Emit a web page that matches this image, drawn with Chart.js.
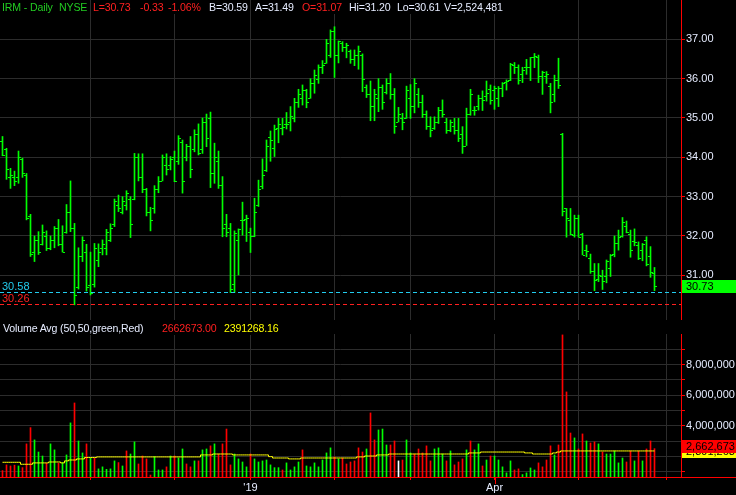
<!DOCTYPE html>
<html lang="en">
<head>
<meta charset="UTF-8">
<title>IRM - Daily</title>
<script src="https://cdn.jsdelivr.net/npm/chart.js"></script>
<style>
  body { margin: 0; background: #000; width: 736px; height: 495px; overflow: hidden; position: relative;
         font-family: "Liberation Sans", Arial, sans-serif; font-size: 11px; }
  canvas { position: absolute; left: 0; }
  #price { top: 0; }
  #vol { top: 320px; }
  .t { position: absolute; line-height: 14px; white-space: nowrap; background: #000; font-size: 10.6px; letter-spacing: -0.15px; }
  .g { color: #22cc22; } .r { color: #ff2020; } .w { color: #e6ecff; } .y { color: #ffff00; }
</style>
</head>
<body>
<canvas id="price" width="736" height="320"></canvas>
<canvas id="vol" width="736" height="175"></canvas>

<div class="t g" style="left:2px;top:0">IRM - Daily</div>
<div class="t g" style="left:59px;top:0">NYSE</div>
<div class="t r" style="left:93px;top:0">L=30.73</div>
<div class="t r" style="left:140px;top:0">-0.33</div>
<div class="t r" style="left:168px;top:0">-1.06%</div>
<div class="t w" style="left:209px;top:0">B=30.59</div>
<div class="t w" style="left:255px;top:0">A=31.49</div>
<div class="t r" style="left:302px;top:0">O=31.07</div>
<div class="t w" style="left:349px;top:0">Hi=31.20</div>
<div class="t w" style="left:397px;top:0">Lo=30.61</div>
<div class="t w" style="left:444px;top:0">V=2,524,481</div>

<div class="t w" style="left:3px;top:321px">Volume Avg (50,50,green,Red)</div>
<div class="t r" style="left:162px;top:321px">2662673.00</div>
<div class="t y" style="left:224px;top:321px">2391268.16</div>

<script>
// daily OHLC, one entry per trading day
const opens = [
  34.42,34.2,33.5,33.5,33.5,33.95,33.55,32.5,31.6,31.9,
  31.8,32.0,31.7,31.9,32.2,31.8,32.1,32.6,32.2,30.7,
  31.5,31.6,30.75,30.77,31.4,31.7,31.7,31.9,32.3,32.8,
  32.6,32.8,32.95,32.95,34.0,33.5,33.2,32.6,32.7,33.2,
  33.4,33.8,33.8,34.0,33.9,34.4,34.0,34.3,34.2,34.6,
  34.2,34.9,35.0,33.6,33.9,33.3,32.3,32.2,30.77,31.9,
  32.4,32.42,32.1,32.0,32.8,33.27,33.69,34.51,34.23,34.74,
  34.74,34.84,34.89,35.0,35.4,35.5,35.7,35.5,35.9,36.0,
  36.3,36.4,36.6,37.2,36.6,36.9,36.8,36.7,36.5,36.6,
  36.6,35.8,35.6,35.3,35.5,35.8,35.65,35.9,35.6,34.9,
  35.0,35.0,35.5,35.3,35.6,35.4,35.1,34.8,34.75,34.9,
  35.2,34.9,34.7,34.8,34.7,34.6,34.3,35.1,35.2,35.3,
  35.52,35.56,35.73,35.71,35.5,35.77,35.92,35.97,36.35,36.3,
  36.11,36.29,36.29,36.54,36.54,36.07,36.07,35.81,35.61,35.97,
  34.6,32.7,32.41,32.03,32.45,32.04,31.64,31.43,31.1,30.9,
  30.97,30.97,31.19,31.53,31.81,32.0,32.26,32.05,31.87,31.77,
  31.64,31.91,31.49,31.07
];
const highs = [
  34.53,34.23,33.72,33.65,34.16,33.98,33.59,32.55,32.0,32.11,
  32.28,32.13,32.0,32.24,32.42,32.26,32.8,33.4,32.32,31.7,
  31.98,31.79,31.59,31.81,31.8,31.9,32.17,32.31,32.94,33.04,
  33.0,33.15,33.0,34.1,34.09,34.09,33.21,32.73,33.28,33.51,
  34.06,34.09,34.02,34.16,34.55,34.44,34.33,34.53,34.7,34.85,
  35.0,35.1,35.15,34.36,34.16,33.51,32.55,32.32,32.13,32.18,
  32.86,32.53,32.2,32.96,33.42,33.96,34.44,34.67,34.82,34.99,
  34.99,35.14,35.29,35.5,35.73,35.84,35.73,36.0,36.22,36.35,
  36.46,37.0,37.24,37.32,36.96,36.94,36.9,36.73,36.73,36.83,
  36.63,35.84,35.94,35.73,36.0,35.84,36.0,36.13,35.75,35.27,
  35.12,35.81,35.85,36.0,35.75,35.58,35.18,35.03,35.03,35.27,
  35.46,34.99,34.95,34.99,34.99,34.78,35.25,35.73,35.29,35.58,
  35.69,35.94,35.84,35.81,35.8,35.9,35.97,36.39,36.41,36.35,
  36.29,36.49,36.54,36.64,36.6,36.19,36.18,35.88,36.09,36.52,
  34.61,32.7,32.7,32.53,32.53,32.07,31.77,31.54,31.3,31.3,
  31.13,31.39,31.53,32.0,32.15,32.47,32.38,32.15,32.18,31.85,
  31.81,31.98,31.73,31.2
];
const lows = [
  34.04,33.44,33.21,33.28,33.34,33.49,32.41,31.48,31.35,31.53,
  31.77,31.63,31.65,31.7,31.75,31.59,32.07,32.11,30.25,30.65,
  31.35,30.6,30.5,30.7,31.22,31.52,31.52,31.86,32.24,32.62,
  32.56,32.66,31.96,32.92,33.4,33.1,32.51,32.13,32.58,33.1,
  33.4,33.55,33.68,33.38,33.82,33.09,33.91,33.48,34.14,34.06,
  34.1,34.27,33.23,33.34,33.21,31.98,31.98,30.56,30.56,31.01,
  32.02,31.86,31.58,31.98,32.75,33.2,33.64,33.9,34.02,34.37,
  34.57,34.72,34.67,34.9,35.27,35.33,35.26,35.5,35.63,35.88,
  36.13,36.39,36.54,36.03,36.4,36.69,36.53,36.39,36.33,36.24,
  35.67,35.52,34.93,34.93,35.16,35.22,35.61,35.48,34.61,34.9,
  34.7,34.99,34.99,35.13,35.27,35.01,34.71,34.52,34.71,34.86,
  35.02,34.61,34.65,34.59,34.4,34.1,34.3,35.07,35.07,35.2,
  35.19,35.43,35.35,35.22,35.29,35.54,35.71,35.95,36.13,35.86,
  35.9,36.11,35.95,36.28,35.9,35.6,35.88,35.13,35.41,35.75,
  32.51,31.97,32.03,31.97,31.97,31.52,31.47,31.05,30.61,30.84,
  30.64,30.81,30.97,31.47,31.64,31.97,32.08,31.46,31.75,31.4,
  31.37,31.24,30.95,30.61
];
const closes = [
  34.05,33.7,33.55,33.4,34.0,33.6,32.45,31.55,31.9,31.6,
  32.1,31.7,31.9,32.2,31.8,31.6,32.6,32.2,30.5,31.5,
  31.9,30.7,30.55,31.7,31.6,31.8,32.1,32.2,32.9,32.7,
  32.9,33.1,32.3,34.0,33.5,33.2,32.6,32.4,33.2,33.4,
  34.0,33.7,33.95,33.4,34.5,33.4,34.3,33.7,34.6,34.1,
  34.9,34.5,33.6,34.0,33.3,32.2,32.1,30.65,32.07,32.17,
  32.4,32.45,31.99,32.6,33.19,33.54,34.29,34.44,34.72,34.85,
  34.76,34.85,35.05,35.4,35.6,35.7,35.4,35.9,36.1,36.3,
  36.35,36.9,37.2,36.6,36.95,36.8,36.85,36.5,36.6,36.7,
  36.0,35.6,35.3,35.6,35.8,35.4,35.9,35.6,34.8,35.1,
  34.9,35.7,35.3,35.9,35.4,35.1,34.8,34.7,34.9,35.2,
  35.1,34.7,34.9,34.7,34.5,34.3,35.1,35.6,35.2,35.5,
  35.46,35.63,35.46,35.77,35.77,35.88,35.95,36.37,36.3,35.97,
  36.22,36.3,36.54,36.58,36.07,36.18,36.11,35.4,35.97,35.84,
  32.64,32.45,32.04,32.47,31.98,31.52,31.63,31.12,30.88,31.01,
  30.86,31.36,31.52,31.81,31.98,32.36,32.09,31.64,31.84,31.43,
  31.79,31.3,31.08,30.73
];

// volume in millions of shares, bar colour codes (g up / r down / w unchanged)
const volumeMillions = [
  1.09,1.46,1.39,1.44,1.39,1.28,2.83,3.89,3.09,2.30,
  2.04,1.57,2.83,2.44,1.57,1.61,2.11,4.20,5.50,3.02,
  2.24,2.83,1.89,1.89,1.20,1.33,1.17,1.20,1.72,1.61,
  1.39,2.37,2.17,2.96,1.52,2.04,1.85,0.80,2.00,1.13,
  1.13,1.33,2.04,2.04,1.91,2.50,1.52,1.33,1.72,1.72,
  2.44,2.50,2.70,2.83,2.17,2.83,3.80,1.46,2.17,1.85,
  1.65,1.33,2.17,1.85,1.65,1.72,1.78,1.46,1.28,1.28,
  1.13,1.59,1.13,1.33,1.65,2.44,1.39,1.33,1.59,1.33,
  1.78,2.24,2.57,1.98,1.85,1.91,1.52,1.65,1.72,2.57,
  2.30,2.50,4.85,3.09,3.74,3.80,2.76,2.76,3.02,1.72,
  1.78,3.09,2.24,2.17,2.50,2.24,2.70,1.72,2.50,2.57,
  2.17,1.72,2.37,1.46,1.65,1.85,2.44,3.02,2.44,2.83,
  1.39,1.78,2.04,2.04,1.78,1.33,0.94,1.72,1.13,1.20,
  0.83,0.94,1.26,1.13,1.59,1.33,1.78,2.70,2.11,2.76,
  9.94,6.22,3.54,3.22,2.50,3.48,3.02,2.89,2.96,2.83,
  2.30,2.17,2.17,2.37,1.59,1.91,1.65,2.37,1.72,2.37,
  1.72,2.50,3.02,2.52
];
const volumeColorCodes = [
  'rrrrgrrrgg','grggrgggrg','grgrgggggr','grggrrrrgg','grgrggrrgr',
  'ggrgrrrrgg','ggrggggggg','rggggrgggg','gggrgrrrrr','rgrrgggrrw',
  'rggrrrrrgg','grgrrrgrgg','rgrgggggrr','ggggrrrrgr','rrrgrrgrrg',
  'rgggggrrgr','grrr'
];
const volumeAvgMillions = [
  1.63,1.63,1.63,1.63,1.63,1.50,1.50,1.50,1.59,1.59,
  1.59,1.59,1.65,1.65,1.65,1.59,1.72,1.78,1.78,1.85,
  1.85,1.94,1.94,1.94,1.98,1.98,1.98,1.98,1.98,1.98,
  1.98,1.98,1.98,1.98,1.98,1.98,1.98,1.98,1.98,1.98,
  1.98,1.98,1.98,1.98,1.98,1.98,1.98,1.98,1.98,1.98,
  2.11,2.11,2.11,2.17,2.17,2.17,2.17,2.17,2.11,2.11,
  2.11,2.11,2.11,2.11,2.11,2.11,2.11,2.00,1.91,1.91,
  1.91,1.91,1.85,1.85,1.85,1.91,1.91,1.91,1.91,1.91,
  1.91,1.91,1.91,1.91,1.91,1.91,1.91,1.91,1.91,1.98,
  1.98,2.04,2.04,2.04,2.11,2.11,2.11,2.17,2.17,2.17,
  2.17,2.17,2.17,2.17,2.17,2.17,2.17,2.17,2.17,2.17,
  2.17,2.17,2.17,2.17,2.17,2.17,2.17,2.24,2.24,2.24,
  2.30,2.30,2.30,2.30,2.30,2.30,2.30,2.30,2.30,2.30,
  2.30,2.24,2.24,2.17,2.17,2.17,2.17,2.17,2.24,2.30,
  2.37,2.37,2.37,2.37,2.37,2.37,2.37,2.37,2.37,2.37,
  2.37,2.37,2.37,2.37,2.37,2.37,2.37,2.37,2.37,2.37,
  2.37,2.37,2.37,2.37
];

// month starts (bar index) and their labels
const monthTicks = [22, 43, 62, 83, 102, 123, 144, 166];
const monthLabels = ['', '', "'19", '', '', 'Apr', '', ''];
const priceTicks = [31, 32, 33, 34, 35, 36, 37];
const volumeTicks = [1, 2, 3, 4, 5, 6, 7, 8, 9];
const volumeLabelled = [4, 6, 8];
const lastPrice = 30.73;
const levels = [30.58, 30.26];
const levelColors = ['#22ccee', '#ff2020'];
const volAvgRed = 2662673;
const volAvgYellow = 2391268;

const green = '#00ff00';
const gridCol = '#2c2c2c';
const axisRed = '#ff0000';
const textCol = '#e6ecff';
const font = { family: '"Liberation Sans", Arial, sans-serif', size: 11 };
const xMin = -0.625, xMax = 169.625;

Chart.defaults.animation = false;
Chart.defaults.font = font;

// axes reserve no extra room for their end labels
const noPad = s => { s.paddingTop = 0; s.paddingBottom = 0; s.paddingLeft = 0; s.paddingRight = 0; };

const hlData = lows.map((l, i) => ({ x: i, y: [l, highs[i]] }));

const ohlcTicks = {
  id: 'ohlcTicks',
  afterDatasetsDraw(chart) {
    const { ctx, chartArea: a, scales: { x, y } } = chart;
    ctx.save();
    ctx.beginPath();
    ctx.rect(a.left, a.top, a.width, a.height);
    ctx.clip();
    ctx.fillStyle = green;
    for (let i = 0; i < opens.length; i++) {
      const xc = x.getPixelForValue(i);
      ctx.fillRect(Math.round(xc - 0.5) - 2, Math.round(y.getPixelForValue(opens[i])), 2, 1);
      ctx.fillRect(Math.round(xc + 0.5), Math.round(y.getPixelForValue(closes[i])), 2, 1);
    }
    // support levels
    ctx.lineWidth = 1;
    ctx.setLineDash([4, 3]);
    ctx.font = '11px "Liberation Sans", Arial, sans-serif';
    levels.forEach((v, k) => {
      const yy = Math.round(y.getPixelForValue(v)) + 0.5;
      ctx.strokeStyle = levelColors[k];
      ctx.beginPath();
      ctx.moveTo(a.left, yy);
      ctx.lineTo(a.right, yy);
      ctx.stroke();
      ctx.fillStyle = levelColors[k];
      ctx.fillText(v.toFixed(2), 2, yy - 3);
    });
    ctx.restore();
  },
  afterDraw(chart) {
    const { ctx, chartArea: a, scales: { y } } = chart;
    const yy = y.getPixelForValue(lastPrice);
    ctx.save();
    ctx.fillStyle = green;
    ctx.fillRect(a.right + 1, Math.round(yy) - 6, 736 - a.right, 13);
    ctx.fillStyle = '#000';
    ctx.font = '11px "Liberation Sans", Arial, sans-serif';
    ctx.textBaseline = 'middle';
    ctx.fillText(lastPrice.toFixed(2), a.right + 5, Math.round(yy) + 1);
    ctx.restore();
  }
};

new Chart(document.getElementById('price'), {
  type: 'bar',
  data: {
    datasets: [{
      data: hlData,
      backgroundColor: green,
      borderWidth: 0,
      barThickness: 1,
      grouped: false
    }]
  },
  options: {
    responsive: false,
    layout: { padding: 0 },
    plugins: { legend: { display: false }, tooltip: { enabled: false } },
    scales: {
      x: {
        type: 'linear', min: xMin, max: xMax, offset: false,
        afterBuildTicks: s => { s.ticks = monthTicks.map(v => ({ value: v })); },
        afterFit: s => { s.height = 0; noPad(s); },
        ticks: { display: false },
        grid: { color: gridCol, drawTicks: false, offset: false },
        border: { display: false }
      },
      y: {
        position: 'right', min: 29.864, max: 38.0,
        afterBuildTicks: s => { s.ticks = priceTicks.map(v => ({ value: v })); },
        afterFit: s => { s.width = 55; noPad(s); },
        ticks: { color: textCol, padding: 1, callback: v => v.toFixed(2) },
        grid: { color: gridCol, tickColor: axisRed, tickLength: 4 },
        border: { color: axisRed }
      }
    }
  },
  plugins: [ohlcTicks]
});

const volColors = volumeColorCodes.join('').split('').map(c => c === 'g' ? green : c === 'r' ? '#ff0000' : '#ffffff');

const volBoxes = {
  id: 'volBoxes',
  afterDraw(chart) {
    const { ctx, chartArea: a, scales: { x, y } } = chart;
    ctx.save();
    ctx.fillStyle = axisRed;
    ctx.fillRect(a.right, a.bottom, 736 - a.right, 1);
    // longer tick under the quarter label
    const qx = Math.round(x.getPixelForValue(monthTicks[monthLabels.indexOf('Apr')]));
    ctx.fillRect(qx, a.bottom, 1, 7);
    ctx.font = '11px "Liberation Sans", Arial, sans-serif';
    ctx.textBaseline = 'middle';
    [[volAvgYellow, '#ffff00'], [volAvgRed, '#ff0000']].forEach(([v, c]) => {
      const yy = Math.round(y.getPixelForValue(v / 1e6));
      ctx.fillStyle = c;
      ctx.fillRect(a.right + 1, yy - 6, 736 - a.right, 13);
      ctx.fillStyle = '#000';
      ctx.fillText(v.toLocaleString('en-US'), a.right + 5, yy + 1);
    });
    ctx.restore();
  }
};

new Chart(document.getElementById('vol'), {
  type: 'bar',
  data: {
    datasets: [{
      type: 'line',
      data: volumeAvgMillions.map((v, i) => ({ x: i, y: v })),
      borderColor: '#ffff00',
      borderWidth: 1,
      pointRadius: 0,
      stepped: 'middle'
    }, {
      data: volumeMillions.map((v, i) => ({ x: i, y: v })),
      backgroundColor: volColors,
      borderWidth: 0,
      barThickness: 1,
      grouped: false
    }]
  },
  options: {
    responsive: false,
    layout: { padding: { top: 14 } },
    plugins: { legend: { display: false }, tooltip: { enabled: false } },
    scales: {
      x: {
        type: 'linear', min: xMin, max: xMax, offset: false,
        afterBuildTicks: s => { s.ticks = monthTicks.map(v => ({ value: v })); },
        afterFit: s => { s.height = 18; noPad(s); },
        ticks: {
          color: textCol, autoSkip: false, maxRotation: 0, padding: 1,
          callback: v => monthLabels[monthTicks.indexOf(v)] || ''
        },
        grid: { color: gridCol, tickColor: axisRed, tickLength: 3, offset: false },
        border: { color: axisRed }
      },
      y: {
        position: 'right', min: 0.67, max: 10.0,
        afterBuildTicks: s => { s.ticks = volumeTicks.map(v => ({ value: v })); },
        afterFit: s => { s.width = 55; noPad(s); },
        ticks: {
          color: textCol, padding: 1,
          callback: v => volumeLabelled.includes(v) ? (v * 1e6).toLocaleString('en-US') : ''
        },
        grid: { color: gridCol, tickColor: axisRed, tickLength: 4 },
        border: { color: axisRed }
      }
    }
  },
  plugins: [volBoxes]
});
</script>
</body>
</html>
